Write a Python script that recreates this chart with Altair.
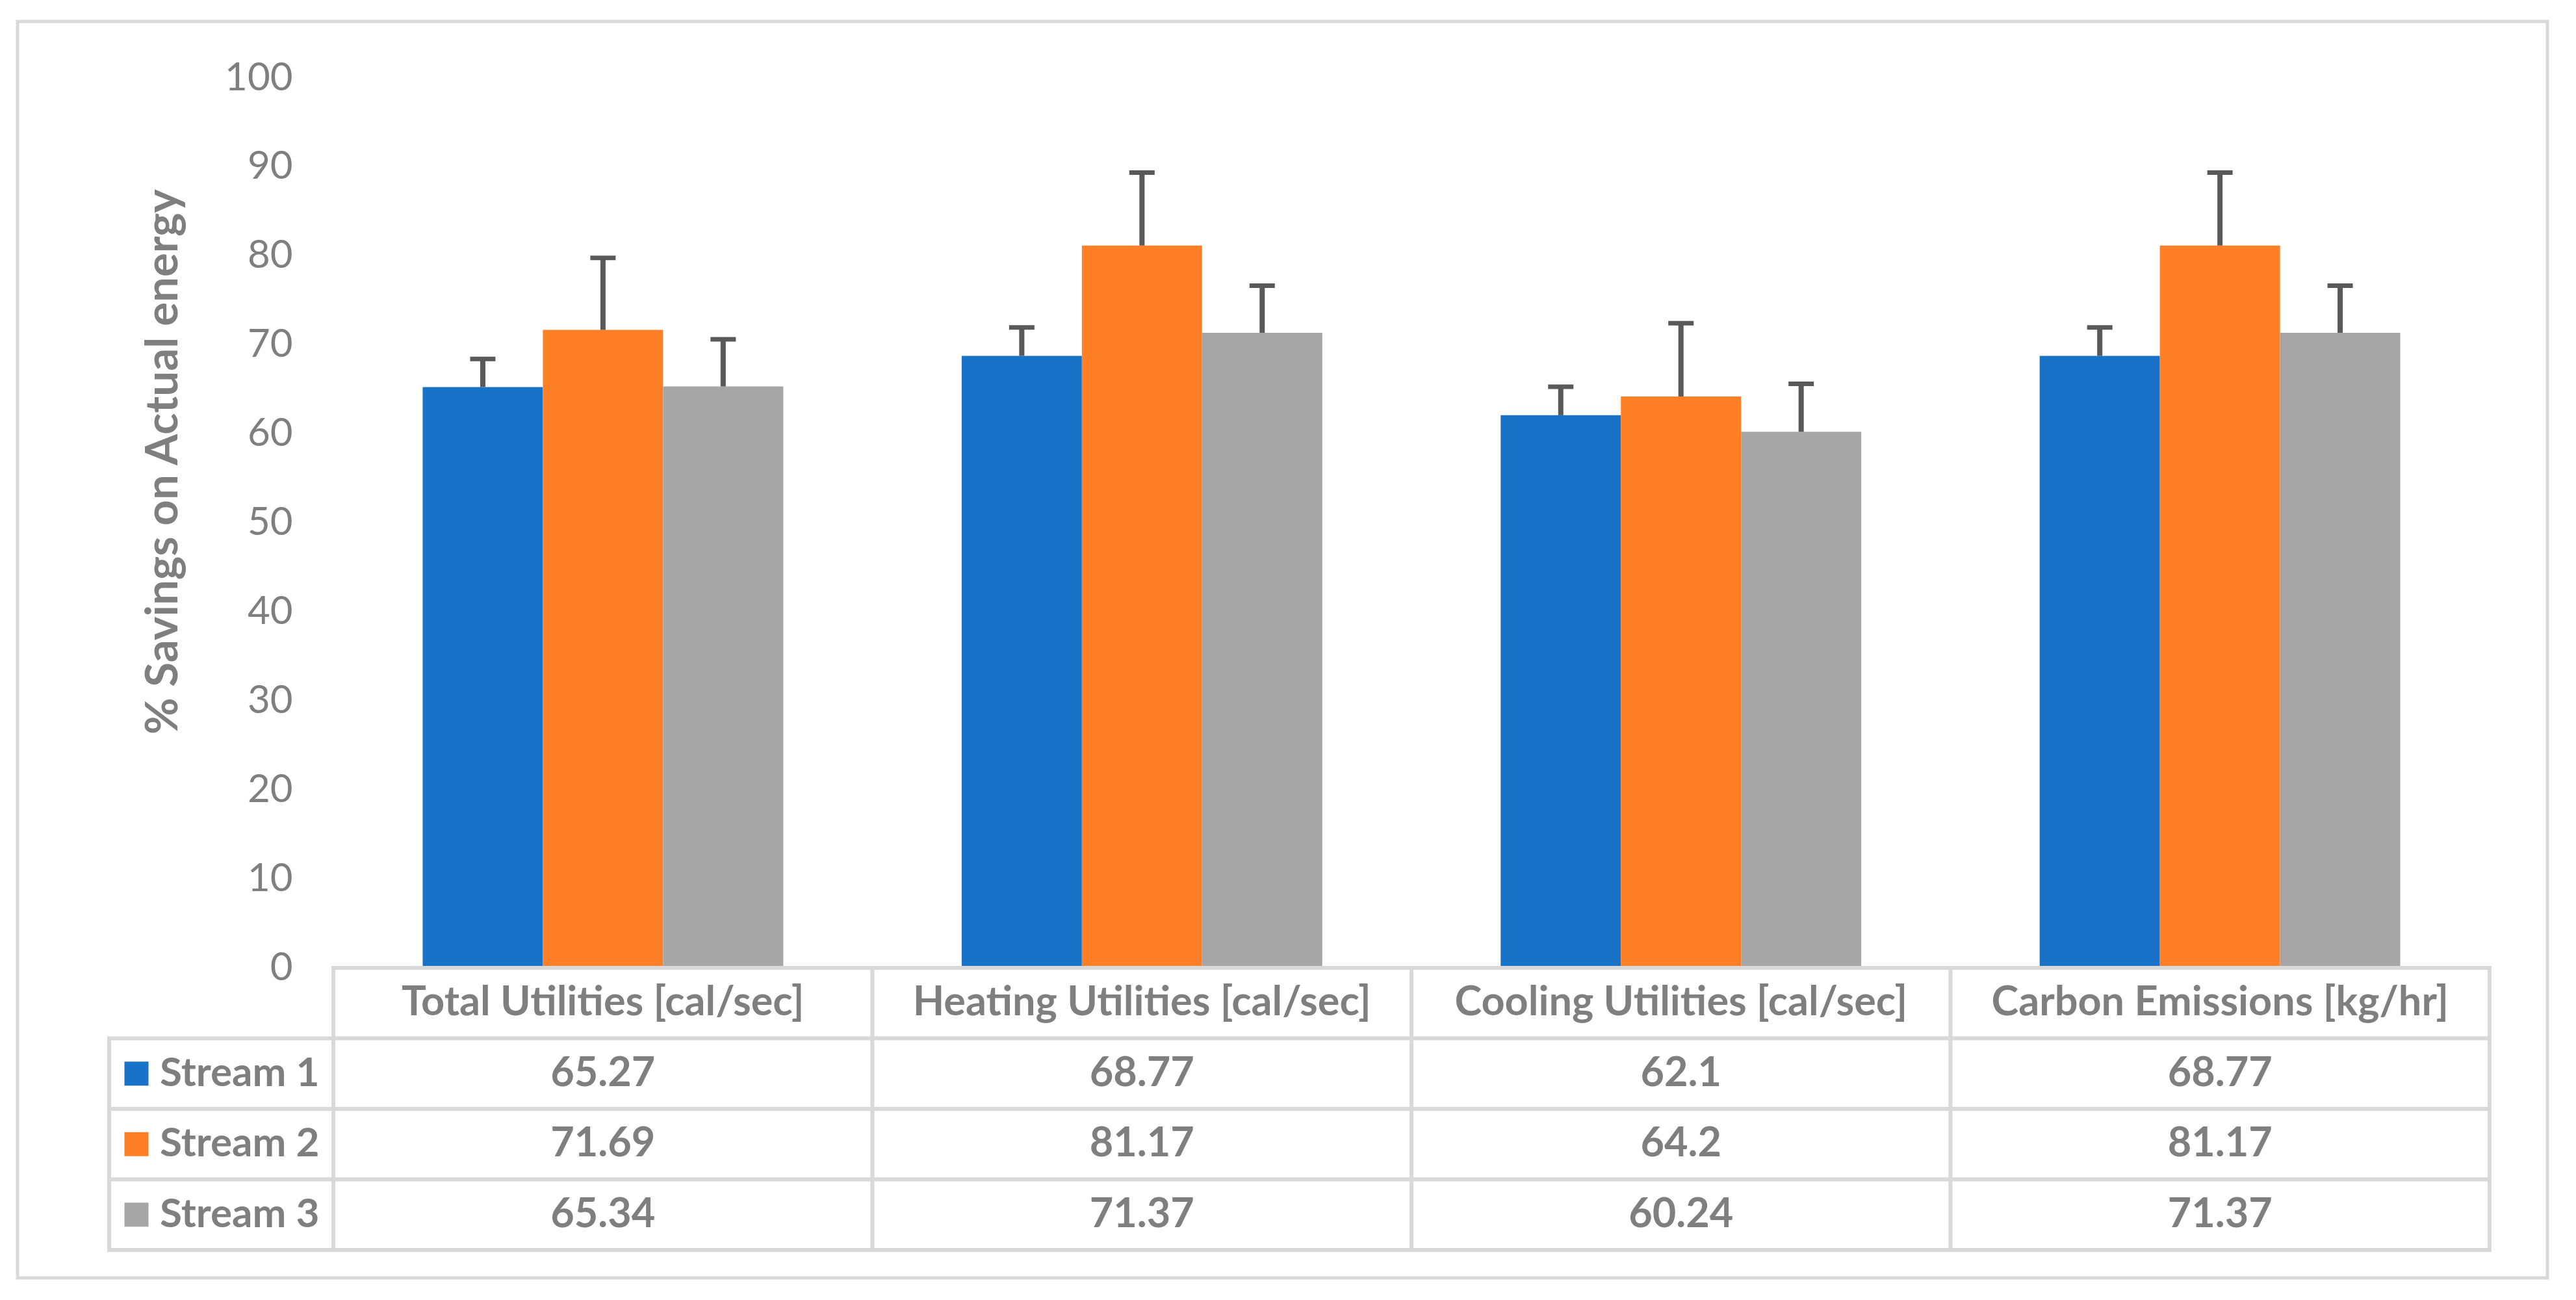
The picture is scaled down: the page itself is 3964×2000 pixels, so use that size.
import altair as alt
import pandas as pd

categories = ["Total Utilities [cal/sec]", "Heating Utilities [cal/sec]",
              "Cooling Utilities [cal/sec]", "Carbon Emissions [kg/hr]"]
streams = ["Stream 1", "Stream 2", "Stream 3"]
stream1 = [65.27, 68.77, 62.1, 68.77]
stream2 = [71.69, 81.17, 64.2, 81.17]
stream3 = [65.34, 71.37, 60.24, 71.37]
err1 = [3.15, 3.2, 3.2, 3.2]
err2 = [8.1, 8.2, 8.25, 8.2]
err3 = [5.3, 5.3, 5.4, 5.3]
colors = ["#1873C8", "#FF7F27", "#A6A6A6"]
y_ticks = list(range(0, 101, 10))
row_order = ["header"] + streams

GRAY_TEXT = "#7F7F7F"
LINE = "#D9D9D9"
ERR = "#595959"

rows = []
for s, vals, errs in zip(streams, [stream1, stream2, stream3], [err1, err2, err3]):
    for c, v, e in zip(categories, vals, errs):
        rows.append({"category": c, "stream": s, "value": v, "top": v + e,
                     "row": s, "label": f"{v:g}"})
df = pd.DataFrame(rows)

trows = [{"category": c, "row": "header", "label": c} for c in categories]
trows += [{"category": r["category"], "row": r["row"], "label": r["label"]} for r in rows]
tdf = pd.DataFrame(trows)
ldf = pd.DataFrame({"row": streams, "stream": streams})

color_scale = alt.Scale(domain=streams, range=colors)

# ---- bars panel ----
x_bar = alt.X("category:N", sort=categories, axis=None,
              scale=alt.Scale(paddingInner=0.331, paddingOuter=0.1657))
xoff = alt.XOffset("stream:N", sort=streams,
                   scale=alt.Scale(paddingInner=0, paddingOuter=0))
yaxis = alt.Axis(values=y_ticks, title="% Savings on Actual energy", ticks=False,
                 domain=False, grid=False, labelFont="Lato", labelFontSize=60,
                 labelColor=GRAY_TEXT, labelPadding=63, titleFont="Lato",
                 titleFontSize=69, titleFontWeight="bold", titleColor=GRAY_TEXT,
                 titleX=-241, titleY=590, titleAngle=270,
                 titleBaseline="alphabetic", titleAlign="center")
yscale = alt.Scale(domain=[0, 100], nice=False, zero=True)

bars = alt.Chart(df).mark_bar().encode(
    x=x_bar, xOffset=xoff,
    y=alt.Y("value:Q", scale=yscale, axis=yaxis),
    color=alt.Color("stream:N", scale=color_scale, legend=None),
)
stems = alt.Chart(df).mark_rule(color=ERR, strokeWidth=8).encode(
    x=x_bar, xOffset=xoff,
    y=alt.Y("value:Q", scale=yscale, axis=yaxis), y2="top:Q",
)
caps = alt.Chart(df).mark_tick(color=ERR, thickness=7, size=39, opacity=1).encode(
    x=x_bar, xOffset=xoff,
    y=alt.Y("top:Q", scale=yscale, axis=yaxis),
)
bar_panel = alt.layer(bars, stems, caps).properties(width=3318, height=1369)

# ---- table panel ----
tx = alt.X("category:N", sort=categories, axis=None,
           scale=alt.Scale(paddingInner=0, paddingOuter=0))
ty = alt.Y("row:N", axis=None,
           scale=alt.Scale(domain=row_order, paddingInner=0, paddingOuter=0))
cells = alt.Chart(tdf).mark_rect(fill="white", stroke=LINE, strokeWidth=6).encode(x=tx, y=ty)
ctext = alt.Chart(tdf).mark_text(font="Lato", fontSize=63, fontWeight="bold",
                                 color=GRAY_TEXT, baseline="middle").encode(
    x=tx, y=ty, text="label:N")
table_panel = alt.layer(cells, ctext).properties(width=3318, height=434)

# ---- legend column ----
lcells = alt.Chart(ldf).mark_rect(fill="white", stroke=LINE, strokeWidth=6).encode(y=ty)
swatch = alt.Chart(ldf).mark_square(size=1369, opacity=1).encode(
    x=alt.value(42), y=ty,
    color=alt.Color("stream:N", scale=color_scale, legend=None))
ltext = alt.Chart(ldf).mark_text(font="Lato", fontSize=62, fontWeight="bold",
                                 color=GRAY_TEXT, align="left", baseline="middle").encode(
    x=alt.value(78), y=ty, text="stream:N")
legend_panel = alt.layer(lcells, swatch, ltext).properties(width=345, height=434)

# ---- top-left (frame) ----
frame = alt.Chart(pd.DataFrame({"a": [0]})).mark_rect(
    filled=False, stroke=LINE, strokeWidth=5).encode(
    x=alt.value(-141), x2=alt.value(3752), y=alt.value(-87), y2=alt.value(1846)
).properties(width=345, height=1369)

chart = alt.concat(frame, bar_panel, legend_panel, table_panel, columns=2,
                   spacing=0, bounds="flush", align="each").resolve_scale(
    x="independent", y="independent"
).properties(
    padding={"left": 16, "top": 22, "right": 0, "bottom": 0},
    background="white",
).configure_view(strokeWidth=0)

chart.save("out.html", embed_options={"renderer": "svg", "actions": False})
